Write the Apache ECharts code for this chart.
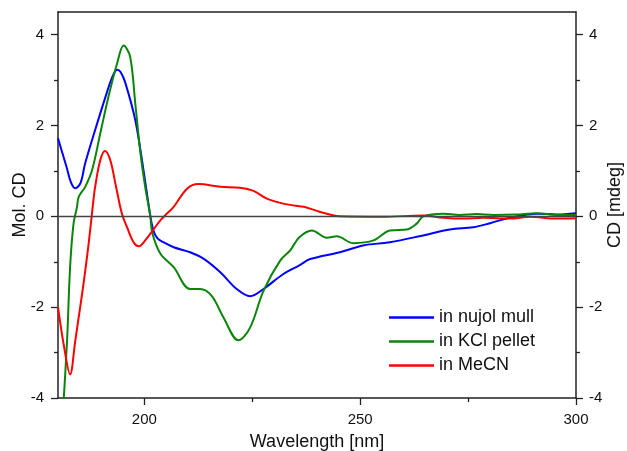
<!DOCTYPE html>
<html>
<head>
<meta charset="utf-8">
<script src="https://cdn.jsdelivr.net/npm/echarts@6/dist/echarts.min.js"></script>
<style>
  html, body { margin: 0; padding: 0; background: #fff; }
  #chart { width: 627px; height: 451px; }
</style>
</head>
<body>
<div id="chart"></div>
<script>
// wavelength [nm] / Mol. CD
var nujolX = [180, 182, 183, 184, 185.2, 186.3, 188.6, 191, 192.5, 193.7, 194.5, 195.6, 197.9, 199.8, 201.4, 202.1, 203, 204.4, 206.8, 210.6, 213.7, 217.6, 221.4, 224.5, 227.6, 232.2, 235.9, 238.4, 245.3, 250.7, 256.9, 264.6, 270.8, 276.2, 280.1, 284.7, 290.9, 295.5, 300];
var nujolY = [1.72, 1.08, 0.75, 0.62, 0.73, 1.17, 1.9, 2.63, 3.05, 3.23, 3.18, 2.94, 2.12, 1.02, 0, -0.31, -0.48, -0.57, -0.68, -0.79, -0.93, -1.23, -1.6, -1.76, -1.6, -1.27, -1.08, -0.94, -0.79, -0.64, -0.57, -0.42, -0.29, -0.24, -0.15, -0.03, 0.06, 0.04, 0.07];

var kclX = [181, 181.3, 182.1, 182.8, 183.6, 184.4, 184.8, 186.3, 187.9, 189.8, 191.7, 193.7, 195.2, 196.7, 197.9, 199.1, 200.2, 201.4, 201.8, 203.7, 206.8, 210.6, 212.9, 215.6, 218.3, 221.8, 224.5, 227.6, 231.5, 233.8, 235.9, 238.8, 242.3, 244.6, 248.4, 253.1, 256.9, 260.8, 263.1, 264.6, 269.3, 273, 277, 281, 286, 290.9, 295.5, 300];
var kclY = [-4.6, -4.07, -2.74, -1.12, -0.16, 0.21, 0.43, 0.65, 1.02, 1.83, 2.64, 3.37, 3.76, 3.52, 2.49, 1.39, 0.65, 0, -0.35, -0.82, -1.12, -1.6, -1.6, -1.75, -2.22, -2.73, -2.45, -1.64, -0.97, -0.75, -0.46, -0.31, -0.47, -0.44, -0.59, -0.53, -0.31, -0.29, -0.16, 0, 0.06, 0.03, 0.05, 0.03, 0.04, 0.07, 0.03, 0.03];

var mecnX = [180, 181.3, 182.8, 184, 184.8, 185.9, 187.1, 188.2, 188.6, 189.8, 190.9, 192.1, 193.3, 194.8, 196, 197.5, 198.7, 200.2, 202.5, 203.7, 204.8, 206.8, 209.9, 212.5, 217.6, 222.2, 225.3, 228.4, 232.2, 235.9, 237, 240, 243, 245.3, 255, 264.6, 269.3, 273.9, 278.5, 284.7, 289.3, 295.5, 300];
var mecnY = [-2.0, -2.81, -3.48, -2.74, -2.22, -1.49, -0.6, 0.35, 0.65, 1.24, 1.44, 1.24, 0.72, 0.06, -0.24, -0.57, -0.66, -0.53, -0.24, -0.09, 0.02, 0.21, 0.61, 0.71, 0.65, 0.63, 0.56, 0.39, 0.28, 0.22, 0.21, 0.12, 0.04, 0, -0.01, 0.02, -0.03, -0.05, -0.03, -0.05, -0.01, -0.05, -0.04];

var seriesNames = ['in nujol mull', 'in KCl pellet', 'in MeCN'];
var seriesColors = ['#0000ff', '#0a850a', '#ff0000'];

var xMajorTicks = [200, 250, 300];
var xMinorTicks = [225, 275];
var yMajorTicks = [-4, -2, 0, 2, 4];
var yMinorTicks = [-3, -1, 1, 3];

var FONT = 'Liberation Sans, Arial, sans-serif';
var AXIS_COLOR = '#222';

function pairs(xs, ys) {
    var out = [];
    for (var i = 0; i < xs.length; i++) {
        out.push([xs[i], ys[i]]);
    }
    return out;
}

function xAxisDef(opts) {
    return Object.assign({
        type: 'value', min: 180, max: 300,
        nameMoveOverlap: false,
        axisLine: { show: false, onZero: false },
        axisTick: { show: false },
        axisLabel: { show: false },
        splitLine: { show: false }
    }, opts);
}

function yAxisDef(opts) {
    return Object.assign({
        type: 'value', min: -4, max: 4.5,
        nameMoveOverlap: false,
        axisLine: { show: false, onZero: false },
        axisTick: { show: false },
        axisLabel: { show: false },
        splitLine: { show: false }
    }, opts);
}

var chart = echarts.init(document.getElementById('chart'), null, { renderer: 'canvas' });

var lineSeries = [
    pairs(nujolX, nujolY),
    pairs(kclX, kclY),
    pairs(mecnX, mecnY)
].map(function (data, i) {
    return {
        name: seriesNames[i],
        type: 'line',
        data: data,
        symbol: 'none',
        smooth: 0.35,
        clip: true,
        z: 3,
        lineStyle: { color: seriesColors[i], width: 2 },
        itemStyle: { color: seriesColors[i] }
    };
});

// zero reference line
lineSeries.unshift({
    name: 'zero',
    type: 'line',
    data: [],
    z: 2,
    markLine: {
        silent: true,
        symbol: 'none',
        label: { show: false },
        lineStyle: { color: '#444', width: 1.3, type: 'solid' },
        data: [{ yAxis: 0 }]
    }
});

var option = {
    animation: false,
    backgroundColor: '#fff',
    textStyle: { fontFamily: FONT },
    grid: { left: 58, right: 51, top: 12, bottom: 53, containLabel: false, outerBoundsMode: 'none' },
    legend: {
        data: seriesNames,
        orient: 'vertical',
        left: 389,
        top: 308,
        padding: 0,
        itemGap: 5,
        itemWidth: 45,
        itemHeight: 2.5,
        icon: 'rect',
        textStyle: { fontFamily: FONT, fontSize: 18, color: '#111', lineHeight: 19 }
    },
    xAxis: [
        xAxisDef({
            position: 'bottom',
            name: 'Wavelength [nm]',
            nameLocation: 'middle',
            nameGap: 35,
            nameTextStyle: { fontFamily: FONT, fontSize: 18, color: '#111' },
            axisLine: { show: true, onZero: false, lineStyle: { color: AXIS_COLOR, width: 1.5 } },
            axisTick: { show: true, inside: false, length: 7, customValues: xMajorTicks, lineStyle: { color: AXIS_COLOR, width: 1.3 } },
            axisLabel: { show: true, margin: 14, customValues: xMajorTicks, fontFamily: FONT, fontSize: 15, color: '#111' }
        }),
        xAxisDef({
            position: 'bottom',
            axisTick: { show: true, inside: false, length: 4, customValues: xMinorTicks, lineStyle: { color: AXIS_COLOR, width: 1.3 } }
        }),
        xAxisDef({
            position: 'top',
            axisLine: { show: true, onZero: false, lineStyle: { color: AXIS_COLOR, width: 1.5 } }
        })
    ],
    yAxis: [
        yAxisDef({
            position: 'left',
            name: 'Mol. CD',
            nameLocation: 'middle',
            nameGap: 29,
            nameRotate: 90,
            nameTextStyle: { fontFamily: FONT, fontSize: 18, color: '#111' },
            axisLine: { show: true, onZero: false, lineStyle: { color: AXIS_COLOR, width: 1.5 } },
            axisTick: { show: true, inside: false, length: 7, customValues: yMajorTicks, lineStyle: { color: AXIS_COLOR, width: 1.3 } },
            axisLabel: { show: true, margin: 14, customValues: yMajorTicks, fontFamily: FONT, fontSize: 15, color: '#111' }
        }),
        yAxisDef({
            position: 'left',
            axisTick: { show: true, inside: false, length: 4, customValues: yMinorTicks, lineStyle: { color: AXIS_COLOR, width: 1.3 } }
        }),
        yAxisDef({
            position: 'right',
            name: 'CD [mdeg]',
            nameLocation: 'middle',
            nameGap: 30,
            nameRotate: 90,
            nameTextStyle: { fontFamily: FONT, fontSize: 18, color: '#111' },
            axisLine: { show: true, onZero: false, lineStyle: { color: AXIS_COLOR, width: 1.5 } },
            axisTick: { show: true, inside: false, length: 7, customValues: yMajorTicks, lineStyle: { color: AXIS_COLOR, width: 1.3 } },
            axisLabel: { show: true, margin: 13, customValues: yMajorTicks, fontFamily: FONT, fontSize: 15, color: '#111' }
        }),
        yAxisDef({
            position: 'right',
            axisTick: { show: true, inside: false, length: 4, customValues: yMinorTicks, lineStyle: { color: AXIS_COLOR, width: 1.3 } }
        })
    ],
    series: lineSeries
};

chart.setOption(option, true);
</script>
</body>
</html>
